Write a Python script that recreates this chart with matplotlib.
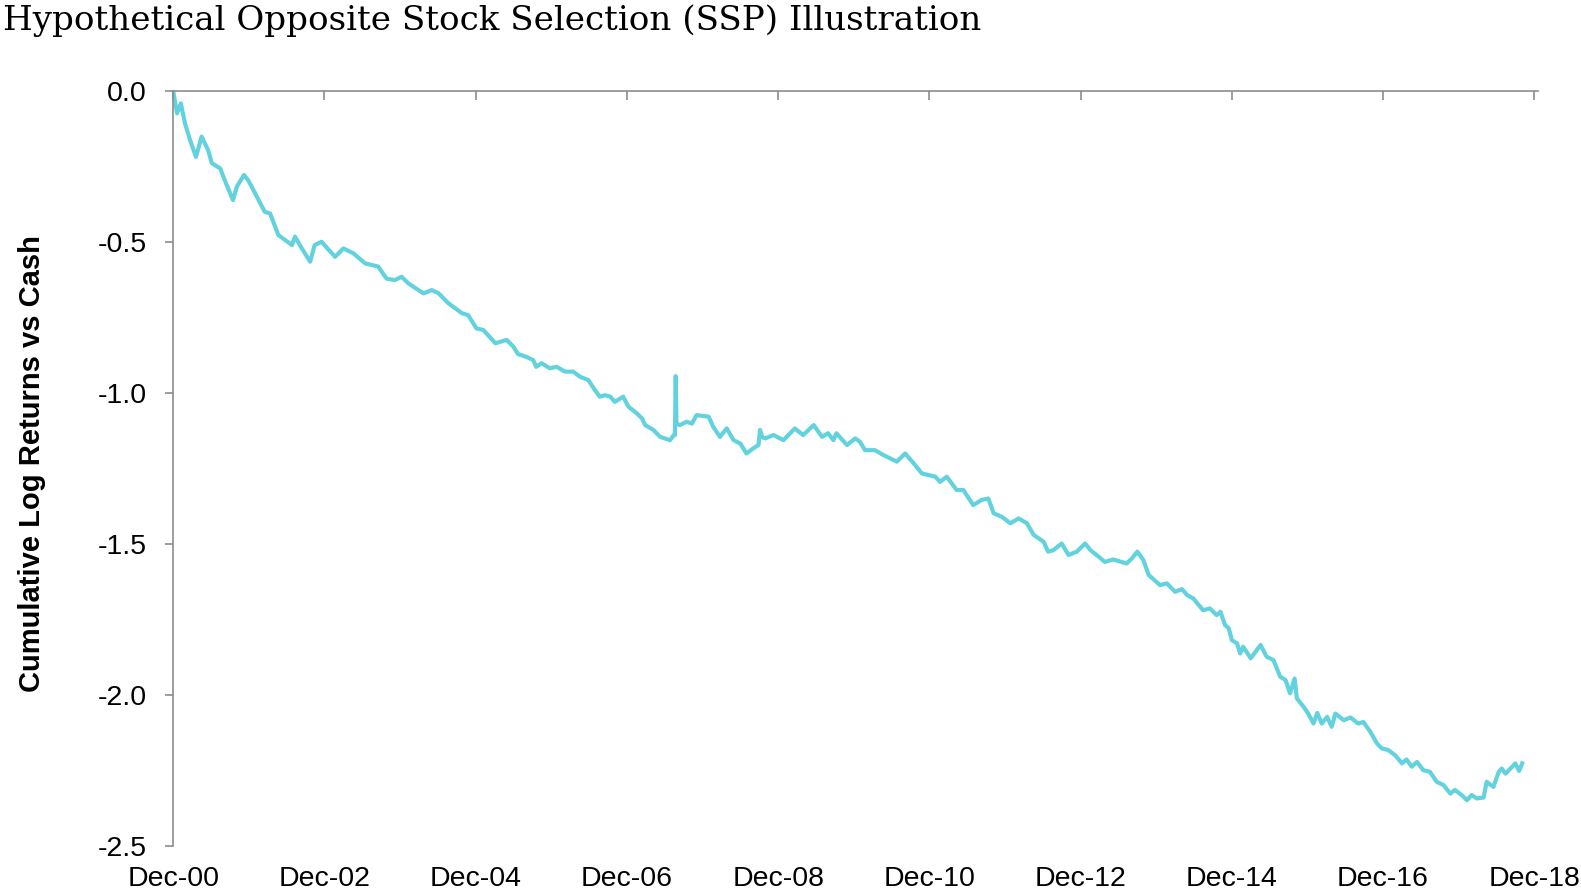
import matplotlib
matplotlib.use("Agg")
import matplotlib.pyplot as plt

# years elapsed since Dec-00, and cumulative log return vs cash
years = [0.00, 0.05, 0.10, 0.155, 0.22, 0.30, 0.375, 0.46, 0.51, 0.62,
         0.68, 0.79, 0.84, 0.935, 0.99, 1.06, 1.21, 1.28, 1.39, 1.57,
         1.61, 1.70, 1.81, 1.87, 1.96, 2.14, 2.25, 2.38, 2.54, 2.71,
         2.82, 2.93, 3.02, 3.11, 3.31, 3.42, 3.51, 3.64, 3.82, 3.90,
         4.01, 4.10, 4.26, 4.41, 4.50, 4.56, 4.67, 4.76, 4.80, 4.87,
         4.98, 5.07, 5.18, 5.29, 5.38, 5.49, 5.56, 5.64, 5.71, 5.78,
         5.84, 5.95, 6.02, 6.13, 6.20, 6.24, 6.35, 6.44, 6.57, 6.62,
         6.635, 6.645, 6.655, 6.70, 6.79, 6.86, 6.92, 7.08, 7.14, 7.23,
         7.32, 7.41, 7.50, 7.58, 7.67, 7.74, 7.76, 7.79, 7.83, 7.94,
         8.07, 8.22, 8.33, 8.47, 8.58, 8.66, 8.73, 8.77, 8.91, 9.02,
         9.08, 9.15, 9.28, 9.39, 9.57, 9.68, 9.81, 9.90, 10.08, 10.14,
         10.23, 10.36, 10.45, 10.58, 10.69, 10.78, 10.85, 10.96, 11.07, 11.18,
         11.29, 11.38, 11.51, 11.57, 11.64, 11.75, 11.84, 11.95, 12.06, 12.13,
         12.24, 12.32, 12.43, 12.61, 12.68, 12.75, 12.83, 12.90, 13.05, 13.14,
         13.25, 13.34, 13.41, 13.49, 13.62, 13.71, 13.80, 13.85, 13.91, 13.96,
         14.00, 14.07, 14.11, 14.15, 14.25, 14.38, 14.46, 14.55, 14.64, 14.71,
         14.77, 14.83, 14.86, 14.95, 15.01, 15.08, 15.13, 15.19, 15.26, 15.32,
         15.37, 15.48, 15.57, 15.67, 15.74, 15.83, 15.92, 15.98, 16.07, 16.16,
         16.25, 16.31, 16.38, 16.45, 16.53, 16.62, 16.71, 16.80, 16.89, 16.95,
         17.04, 17.11, 17.17, 17.24, 17.33, 17.37, 17.46, 17.53, 17.57, 17.62,
         17.75, 17.80, 17.84]

cum_log_ret = [0.000, -0.073, -0.040, -0.106, -0.160, -0.217, -0.150, -0.194, -0.238, -0.255,
               -0.294, -0.360, -0.316, -0.277, -0.294, -0.327, -0.399, -0.404, -0.476, -0.509,
               -0.481, -0.520, -0.564, -0.509, -0.498, -0.548, -0.520, -0.536, -0.570, -0.580,
               -0.620, -0.625, -0.614, -0.636, -0.669, -0.658, -0.669, -0.702, -0.735, -0.741,
               -0.785, -0.790, -0.834, -0.823, -0.846, -0.870, -0.879, -0.890, -0.912, -0.900,
               -0.917, -0.912, -0.928, -0.928, -0.945, -0.956, -0.983, -1.011, -1.006, -1.011,
               -1.028, -1.011, -1.044, -1.066, -1.083, -1.105, -1.121, -1.144, -1.155, -1.138,
               -1.138, -0.943, -1.100, -1.105, -1.094, -1.100, -1.072, -1.077, -1.110, -1.144,
               -1.116, -1.155, -1.166, -1.199, -1.182, -1.171, -1.121, -1.145, -1.149, -1.138,
               -1.155, -1.116, -1.138, -1.105, -1.144, -1.132, -1.155, -1.132, -1.171, -1.149,
               -1.160, -1.188, -1.188, -1.204, -1.226, -1.199, -1.237, -1.265, -1.276, -1.293,
               -1.276, -1.320, -1.320, -1.370, -1.353, -1.348, -1.397, -1.409, -1.430, -1.414,
               -1.430, -1.469, -1.491, -1.524, -1.519, -1.497, -1.535, -1.524, -1.497, -1.519,
               -1.541, -1.558, -1.550, -1.563, -1.546, -1.524, -1.552, -1.601, -1.635, -1.629,
               -1.657, -1.648, -1.668, -1.679, -1.718, -1.712, -1.734, -1.723, -1.767, -1.778,
               -1.817, -1.828, -1.861, -1.839, -1.877, -1.833, -1.872, -1.883, -1.938, -1.949,
               -1.993, -1.944, -2.010, -2.038, -2.060, -2.093, -2.058, -2.093, -2.071, -2.104,
               -2.060, -2.082, -2.073, -2.093, -2.088, -2.120, -2.159, -2.175, -2.181, -2.198,
               -2.225, -2.212, -2.236, -2.220, -2.247, -2.253, -2.286, -2.297, -2.325, -2.313,
               -2.330, -2.347, -2.330, -2.341, -2.338, -2.286, -2.303, -2.253, -2.242, -2.259,
               -2.225, -2.250, -2.225]

tick_years = [0, 2, 4, 6, 8, 10, 12, 14, 16, 18]
tick_labels = ["Dec-00", "Dec-02", "Dec-04", "Dec-06", "Dec-08",
               "Dec-10", "Dec-12", "Dec-14", "Dec-16", "Dec-18"]
y_ticks = [0.0, -0.5, -1.0, -1.5, -2.0, -2.5]

plt.rcParams['font.family'] = ['Liberation Sans', 'DejaVu Sans']
grey = "#8c8c8c"

fig = plt.figure(figsize=(15.81, 8.91), dpi=100)
ax = fig.add_axes([0.1096, 0.0500, 0.8630, 0.8475])

ax.plot(years, cum_log_ret, color="#63d2df", lw=3.0, solid_joinstyle="round")

ax.set_xlim(0, 18.045)
ax.set_ylim(-2.5, 0)

ax.spines["bottom"].set_visible(False)
ax.spines["right"].set_visible(False)
for s in ("left", "top"):
    ax.spines[s].set_color(grey)
    ax.spines[s].set_linewidth(1.2)

ax.set_xticks(tick_years)
ax.set_xticklabels(tick_labels)
ax.set_yticks(y_ticks)
ax.set_yticklabels([f"{v:.1f}" for v in y_ticks])

ax.tick_params(axis="x", top=True, bottom=False, labeltop=False, labelbottom=True,
               direction="in", length=6.8, width=1.2, color=grey, pad=14,
               labelsize=20.5, labelcolor="black")
ax.tick_params(axis="y", direction="out", length=6, width=1.2, color=grey, pad=13,
               labelsize=20.5, labelcolor="black")

fig.text(0.0205, 0.48, "Cumulative Log Returns vs Cash", rotation=90,
         fontsize=21, fontweight="bold", ha="center", va="center")

fig.text(0.002, 0.966, "Hypothetical Opposite Stock Selection (SSP) Illustration",
         family="DejaVu Serif", fontsize=24.6, ha="left", va="baseline")

fig.savefig("out.png", dpi=100)
plt.close(fig)
